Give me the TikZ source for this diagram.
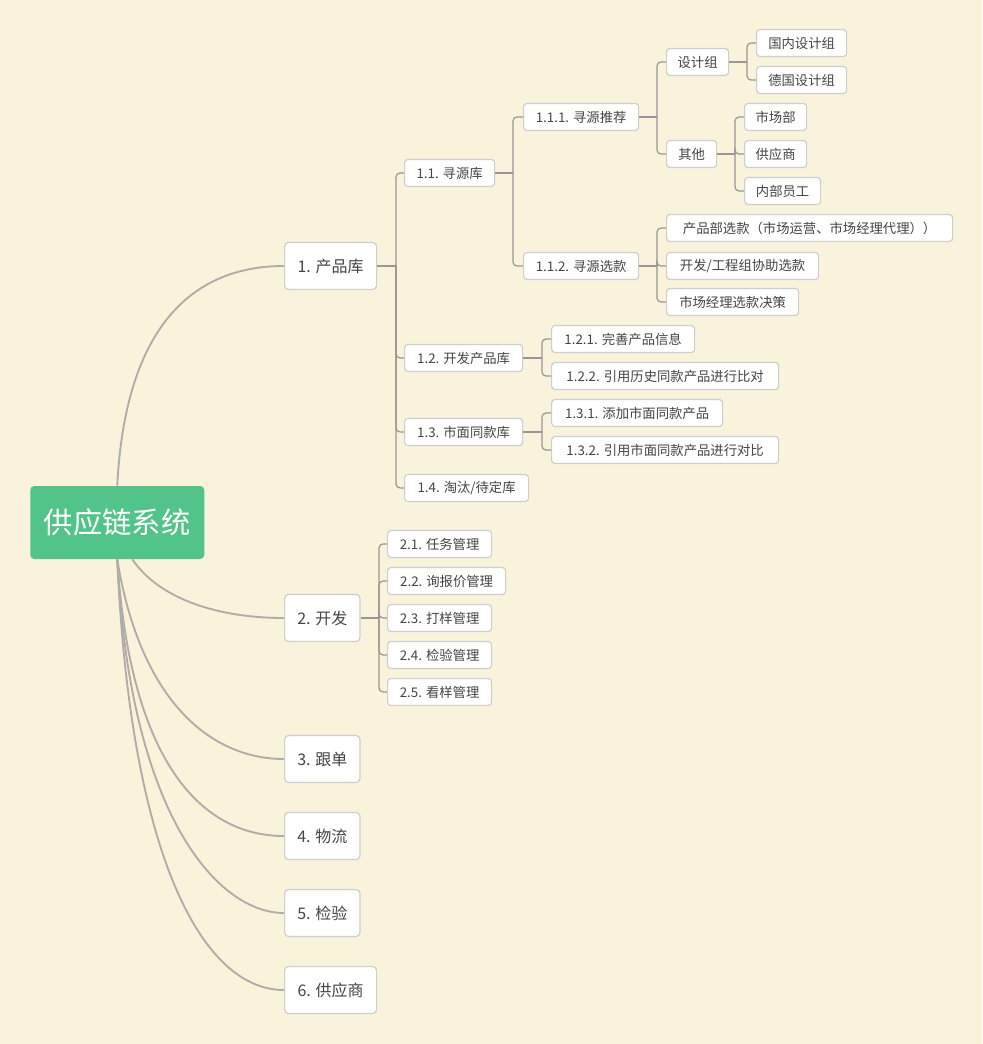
\documentclass[tikz,border=0pt]{standalone}
\usepackage{fontspec}
\setmainfont{Noto Sans CJK SC}
\usetikzlibrary{calc}

\definecolor{bgcol}{RGB}{250,243,220}
\definecolor{rootgreen}{RGB}{82,196,138}
\definecolor{boxline}{RGB}{206,206,206}
\definecolor{textgray}{RGB}{68,68,68}
\definecolor{treeline}{RGB}{150,150,150}
\definecolor{curveline}{RGB}{176,172,168}

\tikzset{
	rootbox/.style={fill=rootgreen, rounded corners=3pt, text=white, anchor=west, minimum height=54.75pt, minimum width=130.5pt, font=\fontsize{22}{25}\selectfont},
	mainbox/.style={draw=boxline, line width=0.9pt, fill=white, rounded corners=3pt, text=textgray, anchor=west, minimum height=35.25pt, inner xsep=9.5pt, font=\fontsize{12}{14}\selectfont},
	subbox/.style={draw=boxline, line width=0.9pt, fill=white, rounded corners=2.5pt, text=textgray, anchor=west, minimum height=20.25pt, inner xsep=8pt, font=\fontsize{10}{12}\selectfont},
	curve/.style={draw=curveline, line width=1.4pt},
	branch/.style={draw=treeline, line width=0.9pt, rounded corners=3pt}
}

\begin{document}
\begin{tikzpicture}[x=0.75pt,y=0.75pt,yscale=-1,xscale=1]
	%background, sets the page to 982 x 1044
	\fill [bgcol] (0,0) rectangle (982,1044);

	%Root
	\node (root) at (30,522.5) [rootbox] {供应链系统};

	%Main topics
	\node (n1) at (284,266) [mainbox, minimum width=69pt] {1. 产品库};
	\node (n2) at (284,618) [mainbox, minimum width=56.25pt] {2. 开发};
	\node (n3) at (284,759) [mainbox, minimum width=56.25pt] {3. 跟单};
	\node (n4) at (284,836) [mainbox, minimum width=56.25pt] {4. 物流};
	\node (n5) at (284,913) [mainbox, minimum width=56.25pt] {5. 检验};
	\node (n6) at (284,990) [mainbox, minimum width=69pt] {6. 供应商};

	%Curves from the root
	\draw [curve] (root.north) .. controls (125,330) and (190,266) .. (n1.west);
	\draw [curve] ($(root.south)+(15,0)$) .. controls (160,600) and (220,618) .. (n2.west);
	\draw [curve] (root.south) .. controls (140,700) and (210,759) .. (n3.west);
	\draw [curve] (root.south) .. controls (130,760) and (200,836) .. (n4.west);
	\draw [curve] (root.south) .. controls (130,820) and (220,913) .. (n5.west);
	\draw [curve] (root.south) .. controls (130,850) and (200,990) .. (n6.west);

	%1. products
	\node (n11) at (404,173) [subbox, minimum width=67.5pt] {1.1. 寻源库};
	\node (n12) at (404,358) [subbox, minimum width=88.5pt] {1.2. 开发产品库};
	\node (n13) at (404,432) [subbox, minimum width=88.5pt] {1.3. 市面同款库};
	\node (n14) at (404,488) [subbox, minimum width=93pt] {1.4. 淘汰/待定库};

	\node (n111) at (523,117) [subbox, minimum width=86.25pt] {1.1.1. 寻源推荐};
	\node (n112) at (523,266) [subbox, minimum width=86.25pt] {1.1.2. 寻源选款};

	\node (design) at (666,62) [subbox, minimum width=46.5pt] {设计组};
	\node (other) at (666,154) [subbox, minimum width=37.5pt] {其他};
	\node (d1) at (756,43) [subbox, minimum width=67.5pt] {国内设计组};
	\node (d2) at (756,80) [subbox, minimum width=67.5pt] {德国设计组};
	\node (o1) at (744,117) [subbox, minimum width=46.5pt] {市场部};
	\node (o2) at (744,154) [subbox, minimum width=46.5pt] {供应商};
	\node (o3) at (744,191) [subbox, minimum width=57pt] {内部员工};

	\node (s1) at (666,228) [subbox, minimum width=214.5pt] {产品部选款（市场运营、市场经理代理））};
	\node (s2) at (666,266) [subbox, minimum width=114pt] {开发/工程组协助选款};
	\node (s3) at (666,302) [subbox, minimum width=99pt] {市场经理选款决策};

	\node (n121) at (551,339) [subbox, minimum width=107.25pt] {1.2.1. 完善产品信息};
	\node (n122) at (551,376) [subbox, minimum width=170.25pt] {1.2.2. 引用历史同款产品进行比对};
	\node (n131) at (551,413) [subbox, minimum width=128.25pt] {1.3.1. 添加市面同款产品};
	\node (n132) at (551,450) [subbox, minimum width=170.25pt] {1.3.2. 引用市面同款产品进行对比};

	%2. development
	\node (n21) at (387,544) [subbox, minimum width=78pt] {2.1. 任务管理};
	\node (n22) at (387,581) [subbox, minimum width=88.5pt] {2.2. 询报价管理};
	\node (n23) at (387,618) [subbox, minimum width=78pt] {2.3. 打样管理};
	\node (n24) at (387,655) [subbox, minimum width=78pt] {2.4. 检验管理};
	\node (n25) at (387,692) [subbox, minimum width=78pt] {2.5. 看样管理};

	%Branch joints
	\coordinate (j1) at (396,266);
	\coordinate (j11) at (513,173);
	\coordinate (j111) at (657,117);
	\coordinate (j112) at (657,266);
	\coordinate (jd) at (747,62);
	\coordinate (jo) at (735,154);
	\coordinate (j12) at (542,358);
	\coordinate (j13) at (542,432);
	\coordinate (j2) at (379,618);

	%Branch lines
	\draw [branch] (n1.east) -- (j1);
	\foreach \c in {n11,n12,n13,n14} \draw [branch] (j1) |- (\c.west);
	\draw [branch] (n11.east) -- (j11);
	\foreach \c in {n111,n112} \draw [branch] (j11) |- (\c.west);
	\draw [branch] (n111.east) -- (j111);
	\foreach \c in {design,other} \draw [branch] (j111) |- (\c.west);
	\draw [branch] (design.east) -- (jd);
	\foreach \c in {d1,d2} \draw [branch] (jd) |- (\c.west);
	\draw [branch] (other.east) -- (jo);
	\foreach \c in {o1,o2,o3} \draw [branch] (jo) |- (\c.west);
	\draw [branch] (n112.east) -- (j112);
	\foreach \c in {s1,s2,s3} \draw [branch] (j112) |- (\c.west);
	\draw [branch] (n12.east) -- (j12);
	\foreach \c in {n121,n122} \draw [branch] (j12) |- (\c.west);
	\draw [branch] (n13.east) -- (j13);
	\foreach \c in {n131,n132} \draw [branch] (j13) |- (\c.west);
	\draw [branch] (n2.east) -- (j2);
	\foreach \c in {n21,n22,n23,n24,n25} \draw [branch] (j2) |- (\c.west);

\end{tikzpicture}
\end{document}
